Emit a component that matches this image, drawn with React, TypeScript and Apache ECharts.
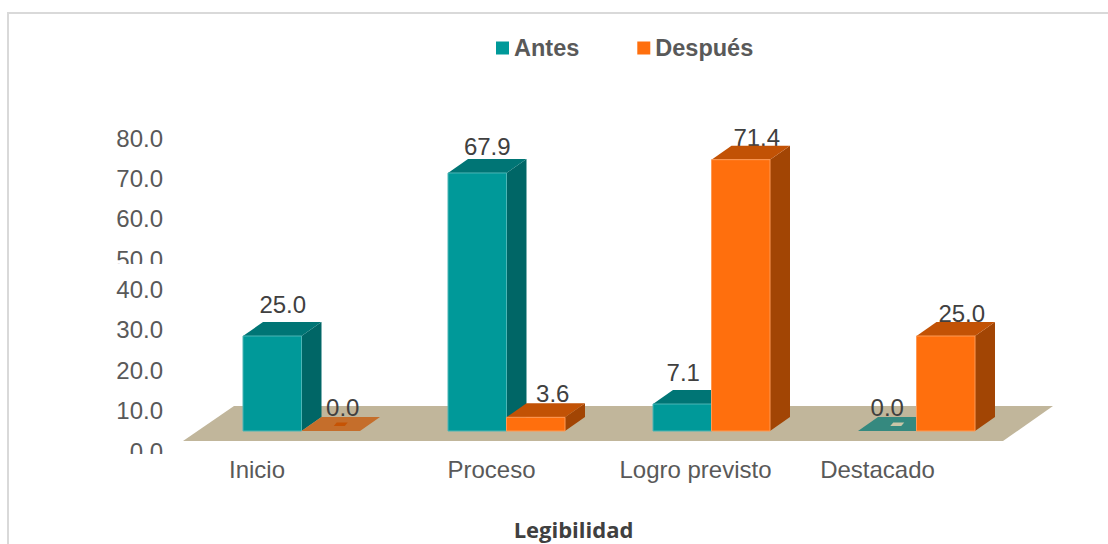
import React, { useEffect, useRef } from "react";
import * as echarts from "echarts";

const categories = ["Inicio", "Proceso", "Logro previsto", "Destacado"];
const antes = [25.0, 67.9, 7.1, 0.0];
const despues = [0.0, 3.6, 71.4, 25.0];
const lowerTicks = [0, 10, 20, 30, 40];
const upperTicks = [50, 60, 70, 80];

// styling tables, in pixels
const catLabelShift = [44.5, 15, 16, 39];
const antesNudge = [[10.5, -18], [10, -12], [1, -18], [0, -10]];
const despuesNudge = [[12, -10], [17, -10], [16, -8], [16, -9]];

const BAR_W = 58.5;
const DX = 20;
const DY = 14;
const FONT = "'Liberation Sans', Arial, sans-serif";
const FS = 24;

const poly = (points: number[][], fill: string, stroke?: string) => ({
  type: "polygon",
  shape: { points },
  style: { fill, stroke: stroke || "none", lineWidth: stroke ? 1 : 0 },
});

function barRenderer(side: number, values: number[], nudge: number[][], c: any) {
  return (params: any, api: any) => {
    const i = api.value(0);
    const v = values[i];
    const [cx, yTop] = api.coord([i, v]);
    const [, yBase] = api.coord([i, 0]);
    const x0 = side < 0 ? cx - BAR_W : cx;
    const x1 = x0 + BAR_W;
    const topFace = [[x0, yTop], [x1, yTop], [x1 + DX, yTop - DY], [x0 + DX, yTop - DY]];
    const children: any[] = [
      {
        type: "text",
        style: {
          text: v.toFixed(1),
          x: (x0 + x1) / 2 + nudge[i][0],
          y: yTop - DY + nudge[i][1],
          fill: "#404040",
          font: `${FS}px ${FONT}`,
          textAlign: "center",
          textVerticalAlign: "middle",
        },
      },
    ];
    if (v === 0) {
      const mx = (x0 + x1) / 2 + DX / 2;
      const my = yTop - DY / 2;
      children.push(poly(topFace, c.flat));
      children.push(poly([[mx - 7, my + 2], [mx + 4, my + 2], [mx + 7, my - 1.5], [mx - 4, my - 1.5]], c.flatInner));
    } else {
      children.push(poly([[x1, yTop], [x1 + DX, yTop - DY], [x1 + DX, yBase - DY], [x1, yBase]], c.side));
      children.push(poly(topFace, c.top));
      children.push(poly([[x0, yTop], [x1, yTop], [x1, yBase], [x0, yBase]], c.front, c.edge));
    }
    return { type: "group", children };
  };
}

const teal = { front: "#009999", side: "#006666", top: "#007575", edge: "#4cb5b5", flat: "#35897f", flatInner: "#c9c6a8" };
const orange = { front: "#FF6F0D", side: "#A24504", top: "#C25205", edge: "#ff9a55", flat: "#C56E2B", flatInner: "#C65304" };

const idx = categories.map((_, i) => i);

export default function App() {
  const ref = useRef<HTMLDivElement>(null);
  useEffect(() => {
    const chart = echarts.init(ref.current!, undefined, { renderer: "svg" });
    const hiddenX = (gridIndex: number) => ({
      type: "category" as const,
      gridIndex,
      data: categories,
      show: false,
    });
    const labelAxis = (gridIndex: number, min: number, max: number) => ({
      type: "value" as const,
      gridIndex,
      min,
      max,
      interval: 10,
      axisLine: { show: false },
      axisTick: { show: false },
      splitLine: { show: false },
      axisLabel: {
        margin: 36,
        color: "#595959",
        fontFamily: FONT,
        fontSize: FS,
        formatter: (v: number) => v.toFixed(1),
      },
    });
    const rich: any = {};
    catLabelShift.forEach((s, i) => {
      rich["c" + i] = {
        color: "#595959",
        fontFamily: FONT,
        fontSize: FS,
        padding: [0, s * 2, 0, 0],
      };
    });
    chart.setOption({
      animation: false,
      backgroundColor: "#fff",
      legend: {
        left: 491,
        top: 31,
        icon: "rect",
        itemWidth: 13,
        itemHeight: 13,
        itemGap: 58,
        data: ["Antes", "Después"],
        textStyle: {
          color: "#595959",
          fontFamily: FONT,
          fontWeight: "bold",
          fontSize: 23.5,
          padding: [0, 0, 0, 0],
        },
      },
      grid: [
        { left: 199, width: 820, top: 127, height: 304 },
        { left: 199, width: 820, top: 289, height: 162 },
        { left: 199, width: 820, top: 138.7, height: 120.3 },
      ],
      xAxis: [
        {
          type: "category",
          gridIndex: 0,
          data: categories,
          axisLine: { show: false },
          axisTick: { show: false },
          axisLabel: {
            margin: 26,
            interval: 0,
            formatter: (v: string) => `{c${categories.indexOf(v)}|${v}}`,
            rich,
          },
        },
        hiddenX(1),
        hiddenX(2),
      ],
      yAxis: [
        { type: "value", gridIndex: 0, min: 0, max: 80, show: false },
        labelAxis(1, lowerTicks[0], lowerTicks[lowerTicks.length - 1]),
        labelAxis(2, upperTicks[0], upperTicks[upperTicks.length - 1]),
      ],
      graphic: [
        {
          type: "rect",
          z: 0,
          silent: true,
          shape: { x: 8, y: 13, width: 1200, height: 600 },
          style: { fill: "none", stroke: "#d9d9d9", lineWidth: 2 },
        },
        {
          type: "rect",
          z: 100,
          silent: true,
          shape: { x: 100, y: 264, width: 80, height: 9 },
          style: { fill: "#fff" },
        },
        {
          type: "rect",
          z: 100,
          silent: true,
          shape: { x: 100, y: 454, width: 70, height: 8 },
          style: { fill: "#fff" },
        },
        {
          type: "text",
          z: 100,
          x: 573.5,
          y: 529,
          style: {
            text: "Legibilidad",
            fill: "#404040",
            font: "bold 22px 'Open Sans', sans-serif",
            textAlign: "center",
            textVerticalAlign: "middle",
          },
        },
      ],
      series: [
        {
          type: "custom",
          name: "floor",
          z: 1,
          silent: true,
          clip: false,
          data: [[0]],
          renderItem: (params: any, api: any) => {
            const [, y0] = api.coord([0, 0]);
            const l = params.coordSys.x - 16;
            const w = params.coordSys.width;
            return poly(
              [[l, y0 + 10], [l + w, y0 + 10], [l + w + 50, y0 - 25], [l + 51, y0 - 25]],
              "#C1B69B"
            );
          },
        },
        {
          type: "custom",
          name: "Antes",
          z: 2,
          clip: false,
          itemStyle: { color: teal.front },
          data: idx.map((i) => [i, antes[i]]),
          encode: { x: 0, y: 1 },
          renderItem: barRenderer(-1, antes, antesNudge, teal),
        },
        {
          type: "custom",
          name: "Después",
          z: 3,
          clip: false,
          itemStyle: { color: orange.front },
          data: idx.map((i) => [i, despues[i]]),
          encode: { x: 0, y: 1 },
          renderItem: barRenderer(1, despues, despuesNudge, orange),
        },
      ],
    });
    return () => chart.dispose();
  }, []);
  return (
    <div
      ref={ref}
      style={{ position: "fixed", left: 0, top: 0, width: 1108, height: 544 }}
    />
  );
}
